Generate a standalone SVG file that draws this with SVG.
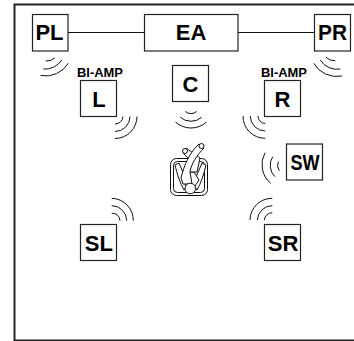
<svg xmlns="http://www.w3.org/2000/svg" width="354" height="341" viewBox="0 0 354 341">
<style>
.box{fill:#fff;stroke:#222;stroke-width:1.2}
.t{font-family:"Liberation Sans",Arial,sans-serif;font-weight:700;font-size:22px;text-anchor:middle;fill:#000}
.s{font-family:"Liberation Sans",Arial,sans-serif;font-weight:700;font-size:12px;text-anchor:middle;fill:#000}
.w{fill:none;stroke:#111;stroke-width:1}
.b{fill:#fff;stroke:#111;stroke-width:1;stroke-linejoin:round}
</style>
<rect width="354" height="341" fill="#fff"/>
<path d="M354 4.500H14.500V340.500H354" fill="none" stroke="#222" stroke-width="2"/>
<g id="connectors"><path d="M68 32.500H144M238 32.500H314" fill="none" stroke="#111" stroke-width="1"/></g>
<g id="PL"><rect class="box" x="32.500" y="14.500" width="35.500" height="36.500"/><text class="t" x="49.500" y="40">PL</text></g>
<g id="EA"><rect class="box" x="144.500" y="14.500" width="93.500" height="36.500"/><text class="t" x="191" y="40">EA</text></g>
<g id="PR"><rect class="box" x="314.500" y="14.500" width="36" height="36.500"/><text class="t" x="332.500" y="40" textLength="29" lengthAdjust="spacingAndGlyphs">PR</text></g>
<g id="L"><text class="s" x="100" y="76.500" textLength="46" lengthAdjust="spacingAndGlyphs">BI-AMP</text><rect class="box" x="80.500" y="80.500" width="36" height="36"/><text class="t" x="99" y="106.500">L</text></g>
<g id="C"><rect class="box" x="172.500" y="65.500" width="36" height="36"/><text class="t" x="190.500" y="91.500">C</text></g>
<g id="R"><text class="s" x="284" y="76.500" textLength="46" lengthAdjust="spacingAndGlyphs">BI-AMP</text><rect class="box" x="264.500" y="80.500" width="36" height="36"/><text class="t" x="282.500" y="106.500">R</text></g>
<g id="SW"><rect class="box" x="286.500" y="144" width="36" height="36"/><text class="t" x="305" y="170" textLength="29" lengthAdjust="spacingAndGlyphs">SW</text></g>
<g id="SL"><rect class="box" x="80.500" y="224.500" width="36" height="36"/><text class="t" x="98.800" y="251">SL</text></g>
<g id="SR"><rect class="box" x="264.500" y="224.500" width="36" height="36"/><text class="t" x="283" y="251">SR</text></g>
<g id="waves">
<path class="w" d="M45.700 61A11.500 11.500 0 0 0 55 57.700M43.300 69A19.500 19.500 0 0 0 61.700 60M40.700 75.500A26.500 26.500 0 0 0 68.300 63.300"/>
<path class="w" d="M115 124A8 8 0 0 0 123 116.500M115 131.500A15 15 0 0 0 130 116.500M115 138.500A22 22 0 0 0 137 116.500"/>
<path class="w" d="M185.300 111.500A8.700 8.700 0 0 0 196.700 111.500M180.300 117.300A16.400 16.400 0 0 0 201.700 117.300M175.500 122A23 23 0 0 0 206.500 122"/>
<path class="w" d="M265.300 123.500A7.500 7.500 0 0 1 258 116M265.300 131A15 15 0 0 1 250.300 116M265.300 138.300A22 22 0 0 1 243 116"/>
<path class="w" d="M326 57.300A12 12 0 0 0 335.300 60.700M320.300 60A19.500 19.500 0 0 0 340.300 69M313.700 63.300A26.700 26.700 0 0 0 342 76"/>
<path class="w" d="M278.300 161.700A9.500 9.500 0 0 0 279.300 170.700M272.700 156.700A16 16 0 0 0 275 176.700M265 152.700A24.500 24.500 0 0 0 270.700 183.300"/>
<path class="w" d="M111.700 213.300A7.500 7.500 0 0 1 120 220.700M111.700 205.700A15 15 0 0 1 126.700 220.700M111.700 198.300A22 22 0 0 1 133.300 220.700"/>
<path class="w" d="M264.300 220A8 8 0 0 1 272.300 212.700M257.300 220A15 15 0 0 1 272.300 205.700M250 220A22 22 0 0 1 272.300 198.300"/>
</g>
<g id="listener">
<rect class="b" x="170.500" y="158.500" width="37" height="37" rx="6"/>
<rect class="b" x="173.500" y="161.500" width="31" height="31" rx="4"/>
<path class="b" d="M175 165L179 163L188 184L184 190C180 183 177 174 175 165Z"/>
<path class="b" d="M206 165L202 163L193 184L197 190C201 183 204 174 206 165Z"/>
<path class="b" d="M182 180L186 172H194L199 180L195 186H186Z" stroke="none"/>
<path class="b" d="M186 148L200 158L197 172H187L192 162L183 153Z"/>
<path class="b" d="M199 144L204 148C197 155 191 164 190 172L192 184H183L181 178C184 165 190 152 199 144Z"/>
<circle class="b" cx="185" cy="151" r="2.500"/>
<circle class="b" cx="201.500" cy="146" r="2.500"/>
<circle class="b" cx="190.300" cy="188.500" r="5.300"/>
</g>
</svg>
